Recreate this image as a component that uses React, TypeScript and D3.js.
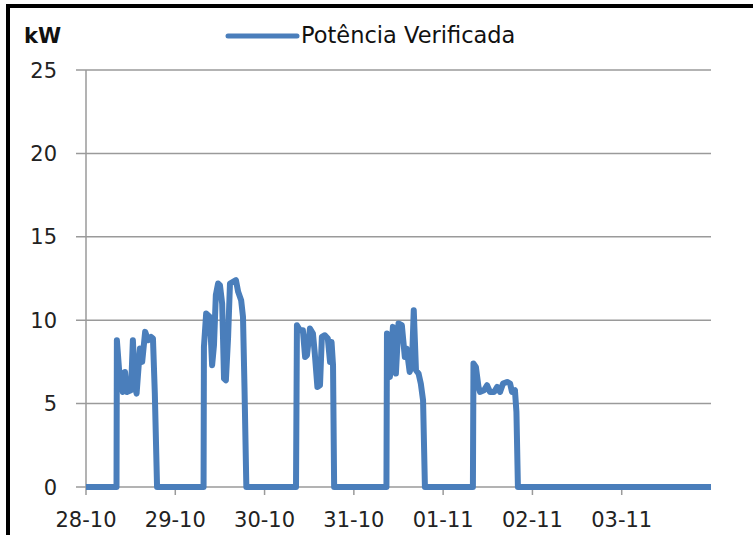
import * as d3 from "d3";
import { useEffect, useRef } from "react";

// x tick labels (one per day)
const dayLabels = ["28-10", "29-10", "30-10", "31-10", "01-11", "02-11", "03-11"];
const yTicks = [0, 5, 10, 15, 20, 25];

// [hour of the day, kW] readings for each day with production
const day28 = [[8.2, 0], [8.3, 8.8], [8.9, 7.0], [9.4, 6.8], [9.9, 5.7], [10.5, 6.9], [11.0, 5.7], [12.1, 5.8], [12.6, 8.8], [13.2, 6.0], [13.6, 5.6], [14.5, 8.3], [15.1, 7.5], [15.9, 9.3], [16.7, 8.8], [17.5, 9.0], [18.0, 8.9], [18.5, 5.6], [19.1, 0]];
const day29 = [[7.6, 0], [7.7, 8.4], [8.3, 10.4], [8.8, 10.3], [9.3, 10.2], [9.9, 7.3], [10.4, 8.5], [10.9, 11.5], [11.5, 12.2], [12.0, 12.1], [12.6, 11.0], [13.1, 6.5], [13.6, 6.4], [14.2, 9.0], [14.7, 12.2], [15.5, 12.3], [16.3, 12.4], [16.9, 11.7], [17.7, 11.2], [18.2, 10.2], [18.6, 6.0], [19.1, 0]];
const day30 = [[8.45, 0], [8.7, 9.7], [9.5, 9.4], [10.3, 9.4], [10.9, 7.8], [11.4, 7.9], [12.2, 9.5], [13.0, 9.2], [13.5, 8.0], [14.2, 6.0], [14.9, 6.1], [15.4, 9.0], [16.2, 9.1], [17.0, 8.9], [17.6, 7.5], [18.0, 8.7], [18.4, 7.3], [18.7, 0]];
const day31 = [[8.76, 0], [8.9, 9.2], [9.7, 6.6], [10.5, 9.6], [11.3, 6.8], [12.0, 9.8], [12.9, 9.7], [13.7, 7.8], [14.2, 8.3], [15.0, 6.9], [15.6, 7.3], [16.1, 10.6], [16.7, 7.0], [17.4, 6.8], [18.0, 6.2], [18.6, 5.2], [19.1, 0]];
const day01 = [[8.0, 0], [8.15, 7.4], [8.8, 7.2], [9.5, 6.0], [9.9, 5.7], [11.0, 5.8], [11.8, 6.1], [12.6, 5.7], [13.7, 5.7], [14.5, 6.0], [15.3, 5.7], [16.1, 6.2], [17.2, 6.3], [18.0, 6.2], [18.5, 5.7], [19.3, 5.8], [19.7, 4.5], [20.1, 0]];
const dailyReadings = [day28, day29, day30, day31, day01];

const start = Date.UTC(2013, 9, 28);
const end = Date.UTC(2013, 10, 4);
const HOUR = 3600 * 1000;

const PowerChart = () => {
  const ref = useRef<SVGSVGElement>(null);

  useEffect(() => {
    if (ref && ref.current) ref.current.innerHTML = "";

    const width = 753;
    const height = 535;
    const left = 86, right = 711, top = 70, bottom = 487;
    const font = "DejaVu Sans, Verdana, sans-serif";
    const blue = "#4A7EBB";
    const grid = "#9a9a9a";

    // build the full series: zero overnight, readings in daytime
    const points: [number, number][] = [[start, 0]];
    dailyReadings.forEach((day, i) => {
      day.forEach(([h, v]) => points.push([start + (i * 24 + h) * HOUR, v]));
    });
    points.push([end, 0]);

    const x = d3.scaleUtc().domain([start, end]).range([left, right]);
    const y = d3.scaleLinear().domain([0, 25]).range([bottom, top]);

    const svg = d3.select(ref.current)
      .attr("width", width)
      .attr("height", height)
      .style("display", "block")
      .style("font-family", font);

    svg.append("rect").attr("width", width).attr("height", height).attr("fill", "#fff");

    // frame (bottom edge is outside the picture)
    svg.append("path")
      .attr("d", `M8,${height + 10}V6H${width + 10}`)
      .attr("fill", "none")
      .attr("stroke", "#000")
      .attr("stroke-width", 4);

    // gridlines + left ticks
    const yg = svg.append("g");
    yTicks.forEach(t => {
      yg.append("line")
        .attr("x1", left - 10).attr("x2", right)
        .attr("y1", y(t)).attr("y2", y(t))
        .attr("stroke", grid).attr("stroke-width", 1.5);
      yg.append("text")
        .attr("x", 57).attr("y", y(t))
        .attr("dy", "0.36em")
        .attr("text-anchor", "end")
        .attr("font-size", 21)
        .attr("fill", "#222")
        .text(t);
    });
    yg.append("line")
      .attr("x1", left).attr("x2", left)
      .attr("y1", top).attr("y2", bottom)
      .attr("stroke", grid).attr("stroke-width", 1.5);

    // x ticks
    const days = d3.utcDay.range(start, end);
    const xg = svg.append("g");
    days.forEach((d, i) => {
      xg.append("line")
        .attr("x1", x(d)).attr("x2", x(d))
        .attr("y1", bottom).attr("y2", bottom + 8)
        .attr("stroke", grid).attr("stroke-width", 1.5);
      xg.append("text")
        .attr("x", x(d)).attr("y", 527)
        .attr("text-anchor", "middle")
        .attr("font-size", 21)
        .attr("fill", "#222")
        .text(dayLabels[i]);
    });

    // series
    const line = d3.line<[number, number]>()
      .x(d => x(d[0]))
      .y(d => y(d[1]));
    svg.append("path")
      .datum(points)
      .attr("d", line)
      .attr("fill", "none")
      .attr("stroke", blue)
      .attr("stroke-width", 6)
      .attr("stroke-linejoin", "round");

    // unit label
    svg.append("text")
      .attr("x", 24).attr("y", 43)
      .attr("font-size", 21)
      .attr("font-weight", "bold")
      .attr("fill", "#111")
      .text("kW");

    // legend
    svg.append("line")
      .attr("x1", 228).attr("x2", 297)
      .attr("y1", 36).attr("y2", 36)
      .attr("stroke", blue).attr("stroke-width", 5)
      .attr("stroke-linecap", "round");
    svg.append("text")
      .attr("x", 301).attr("y", 43)
      .attr("font-size", 22.5)
      .attr("fill", "#111")
      .text("Potência Verificada");
  }, []);

  return <svg ref={ref} />;
};

export default function App() {
  return (
    <div style={{ position: "absolute", left: 0, top: 0 }}>
      <PowerChart />
    </div>
  );
}
